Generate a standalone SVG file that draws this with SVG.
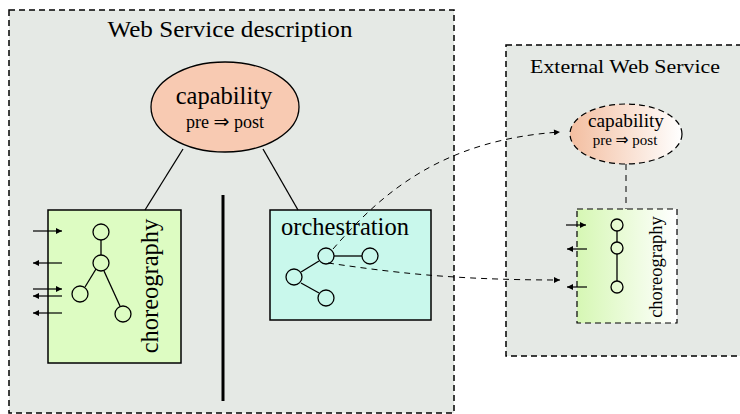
<svg xmlns="http://www.w3.org/2000/svg" width="740" height="414" viewBox="0 0 740 414">
  <defs>
    <style>
      .frame { fill: #e5e9e5; stroke: #000; stroke-width: 1.5; stroke-dasharray: 6 4; }
      .txt { font-family: "Liberation Serif", "Times New Roman", serif; fill: #000; }
      .sym { font-family: "DejaVu Sans", sans-serif; }
      .solid { fill: none; stroke: #000; stroke-width: 1.3; }
      .node { fill: none; stroke: #000; stroke-width: 1.3; }
      .dash { fill: none; stroke: #000; stroke-width: 1; stroke-dasharray: 6 5; }
      .io { stroke: #000; stroke-width: 1.2; fill: none; }
    </style>
    <marker id="tip" viewBox="0 0 10 10" refX="10" refY="5" markerWidth="8" markerHeight="6" markerUnits="userSpaceOnUse" orient="auto">
      <path d="M0,0 L10,5 L0,10 z" fill="#000"/>
    </marker>
    <marker id="tipSmall" viewBox="0 0 10 10" refX="10" refY="5" markerWidth="7" markerHeight="6" markerUnits="userSpaceOnUse" orient="auto">
      <path d="M0,0 L10,5 L0,10 z" fill="#000"/>
    </marker>
    <linearGradient id="peachFade" x1="0" y1="0" x2="1" y2="0">
      <stop offset="0" stop-color="#f3bea0"/>
      <stop offset="1" stop-color="#ffffff"/>
    </linearGradient>
    <linearGradient id="greenFade" x1="0" y1="0" x2="1" y2="0">
      <stop offset="0" stop-color="#d6f7b4"/>
      <stop offset="1" stop-color="#ffffff"/>
    </linearGradient>
  </defs>

  <rect width="740" height="414" fill="#ffffff"/>

  <!-- Web Service description frame -->
  <g id="ws-description">
    <rect class="frame" x="9" y="10" width="445" height="403"/>
    <text class="txt" x="230" y="37" font-size="23" text-anchor="middle" textLength="245" lengthAdjust="spacingAndGlyphs">Web Service description</text>
  </g>

  <!-- External Web Service frame -->
  <g id="external-ws">
    <rect class="frame" x="506" y="45" width="240" height="311"/>
    <text class="txt" x="625" y="73" font-size="19.5" text-anchor="middle" textLength="190" lengthAdjust="spacingAndGlyphs">External Web Service</text>
  </g>

  <!-- separator bar -->
  <g id="separator">
    <line x1="223" y1="195" x2="223" y2="401" stroke="#000" stroke-width="3"/>
  </g>

  <!-- capability -->
  <g id="capability">
    <ellipse cx="225" cy="107" rx="74" ry="45" fill="#f8cab2" stroke="#000" stroke-width="1.3"/>
    <text class="txt" x="224" y="104" font-size="24.5" text-anchor="middle">capability</text>
    <text class="txt" x="225" y="128" font-size="18" text-anchor="middle">pre <tspan class="sym" font-size="19">⇒</tspan> post</text>
  </g>

  <!-- choreography -->
  <g id="choreography">
    <rect x="48" y="210" width="133" height="153" fill="#ddfcc2" stroke="#000" stroke-width="1.5"/>
    <line class="io" x1="33" y1="231" x2="62" y2="231" marker-end="url(#tip)"/>
    <line class="io" x1="62" y1="263" x2="33" y2="263" marker-end="url(#tip)"/>
    <line class="io" x1="33" y1="289" x2="62" y2="289" marker-end="url(#tip)"/>
    <line class="io" x1="62" y1="296" x2="33" y2="296" marker-end="url(#tip)"/>
    <line class="io" x1="62" y1="313" x2="33" y2="313" marker-end="url(#tip)"/>
    <line class="solid" x1="101" y1="240" x2="101" y2="255"/>
    <line class="solid" x1="96" y1="269" x2="85" y2="287"/>
    <line class="solid" x1="104" y1="271" x2="120" y2="306"/>
    <circle class="node" cx="101" cy="232" r="8"/>
    <circle class="node" cx="101" cy="263" r="8"/>
    <circle class="node" cx="80" cy="294" r="8"/>
    <circle class="node" cx="123" cy="314" r="8"/>
    <text class="txt" font-size="24.5" text-anchor="middle" transform="translate(158,286) rotate(-90)">choreography</text>
  </g>

  <!-- orchestration -->
  <g id="orchestration">
    <rect x="270" y="210" width="161" height="110" fill="#c9f8ec" stroke="#000" stroke-width="1.5"/>
    <text class="txt" x="281" y="235" font-size="24.5">orchestration</text>
    <line class="solid" x1="334" y1="256" x2="362" y2="256"/>
    <line class="solid" x1="301" y1="272" x2="319" y2="261"/>
    <line class="solid" x1="301" y1="283" x2="319" y2="293"/>
    <circle class="node" cx="326" cy="256" r="8"/>
    <circle class="node" cx="370" cy="256" r="8"/>
    <circle class="node" cx="294" cy="277" r="8"/>
    <circle class="node" cx="326" cy="298" r="8"/>
  </g>

  <!-- external capability -->
  <g id="ext-capability">
    <ellipse cx="626" cy="134" rx="56" ry="30" fill="url(#peachFade)" stroke="#000" stroke-width="1.2" stroke-dasharray="6 4"/>
    <text class="txt" x="626" y="127" font-size="19" text-anchor="middle" textLength="76" lengthAdjust="spacingAndGlyphs">capability</text>
    <text class="txt" x="625" y="145" font-size="15" text-anchor="middle">pre <tspan class="sym" font-size="15.5">⇒</tspan> post</text>
  </g>

  <!-- external choreography -->
  <g id="ext-choreography">
    <rect x="577" y="209" width="100" height="114" fill="url(#greenFade)" stroke="#000" stroke-width="1.2" stroke-dasharray="6 4"/>
    <line class="io" x1="566" y1="225" x2="586" y2="225" marker-end="url(#tipSmall)"/>
    <line class="io" x1="587" y1="249" x2="567" y2="249" marker-end="url(#tipSmall)"/>
    <line class="io" x1="587" y1="287" x2="567" y2="287" marker-end="url(#tipSmall)"/>
    <line class="solid" x1="617" y1="231" x2="617" y2="242"/>
    <line class="solid" x1="617" y1="254" x2="617" y2="281"/>
    <circle class="node" cx="617" cy="225" r="6"/>
    <circle class="node" cx="617" cy="248" r="6"/>
    <circle class="node" cx="617" cy="287" r="6"/>
    <text class="txt" font-size="18.5" text-anchor="middle" transform="translate(662,267) rotate(-90)">choreography</text>
  </g>

  <!-- connectors -->
  <g id="connectors">
    <line class="solid" x1="183" y1="149" x2="145" y2="210"/>
    <line class="solid" x1="263" y1="149" x2="298" y2="210"/>
    <path class="dash" d="M333,249 C380,195 440,140 560,132" marker-end="url(#tip)"/>
    <path class="dash" d="M328,263 C390,272 450,280 560,280" marker-end="url(#tip)"/>
    <line class="dash" x1="626" y1="164" x2="626" y2="209"/>
  </g>
</svg>
